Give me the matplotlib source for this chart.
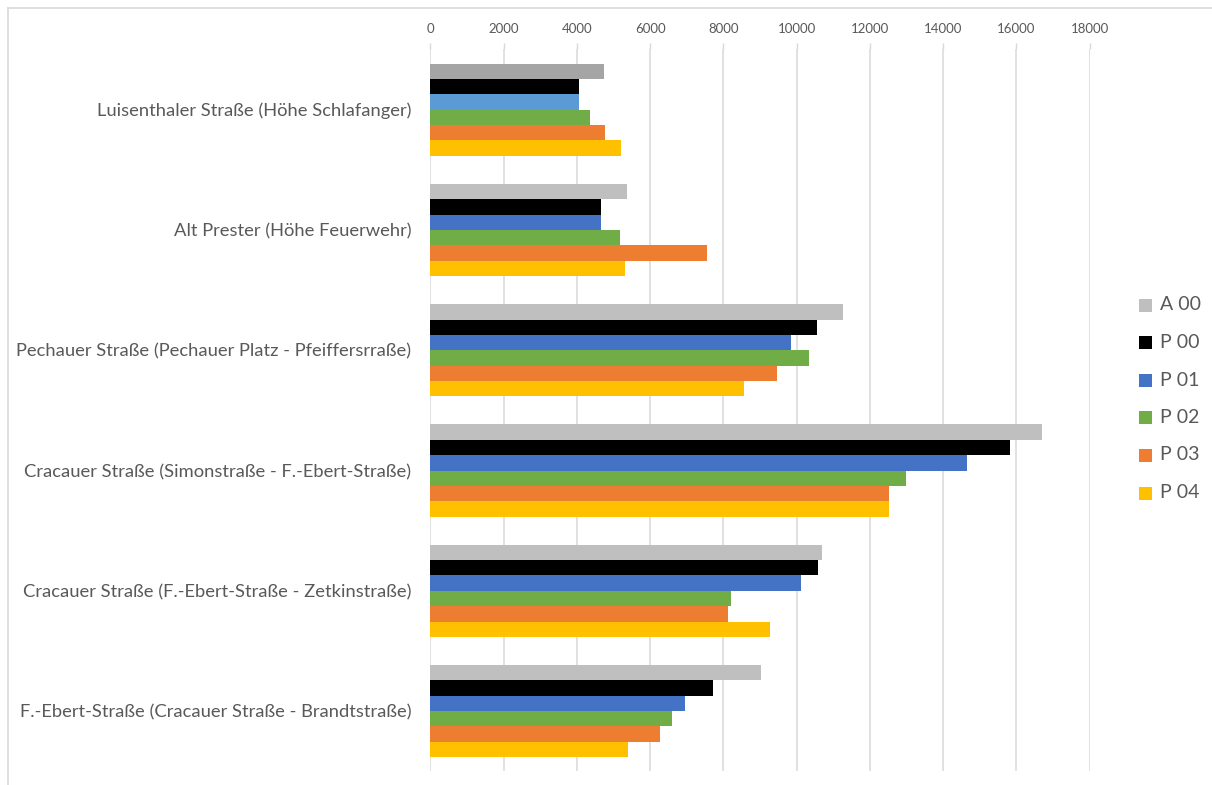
import matplotlib
matplotlib.use("Agg")
import matplotlib.pyplot as plt
from matplotlib.patches import Rectangle
from matplotlib.lines import Line2D
import numpy as np

plt.rcParams['font.family'] = ['Lato', 'DejaVu Sans']

# Messstellen (Kategorien, von oben nach unten)
categories = [
    "Luisenthaler Straße (Höhe Schlafanger)",
    "Alt Prester (Höhe Feuerwehr)",
    "Pechauer Straße (Pechauer Platz - Pfeiffersrraße)",
    "Cracauer Straße (Simonstraße - F.-Ebert-Straße)",
    "Cracauer Straße (F.-Ebert-Straße - Zetkinstraße)",
    "F.-Ebert-Straße (Cracauer Straße - Brandtstraße)",
]

series_names = ["A 00", "P 00", "P 01", "P 02", "P 03", "P 04"]

a00 = [4740, 5380, 11270, 16700, 10680, 9030]
p00 = [4070, 4670, 10550, 15825, 10585, 7710]
p01 = [4060, 4670, 9840, 14645, 10110, 6960]
p02 = [4370, 5180, 10350, 12985, 8210, 6600]
p03 = [4770, 7545, 9475, 12515, 8120, 6260]
p04 = [5215, 5310, 8555, 12515, 9265, 5405]

series_values = [a00, p00, p01, p02, p03, p04]

series_colors = ["#BFBFBF", "#000000", "#4472C4", "#70AD47", "#ED7D31", "#FFC000"]
# einzelne Balken mit abweichender Farbe: (Serie, Kategorie) -> Farbe
point_colors = {(0, 0): "#A5A5A5", (2, 0): "#5B9BD5"}

x_ticks = [0, 2000, 4000, 6000, 8000, 10000, 12000, 14000, 16000, 18000]

W, H = 1212, 785
fig = plt.figure(figsize=(W / 100, H / 100), dpi=100)
fig.patch.set_facecolor("white")

left, right, top, bottom = 430.3, 1089.7, 49.4, 771.3
ax = fig.add_axes([left / W, 1 - bottom / H, (right - left) / W, (bottom - top) / H])

text_color = "#595959"
grid_color = "#D9D9D9"

n_series = len(series_names)
bar_h = 0.765 / n_series
y_pos = np.arange(len(categories))

for j, (vals, col) in enumerate(zip(series_values, series_colors)):
    colors = [point_colors.get((j, i), col) for i in range(len(categories))]
    ax.barh(y_pos + (j - (n_series - 1) / 2) * bar_h, vals, height=bar_h,
            color=colors, edgecolor="none", zorder=3)

ax.set_xlim(0, 18000)
ax.set_ylim(len(categories) - 0.5, -0.5)

ax.xaxis.tick_top()
ax.set_xticks(x_ticks)
ax.set_xticklabels([str(t) for t in x_ticks])
ax.tick_params(axis="x", colors=grid_color, labelcolor=text_color, labelsize=9.5,
               length=4.5, width=1.0, pad=6)
ax.set_yticks(y_pos)
ax.set_yticklabels(categories)
ax.tick_params(axis="y", length=0, labelcolor=text_color, labelsize=13.2, pad=13.5)

ax.grid(axis="x", color=grid_color, linewidth=1.1, zorder=0)
ax.set_axisbelow(True)
for s in ax.spines.values():
    s.set_visible(False)

# Legende rechts
legend_x = 1139
legend_rows = [305, 342.5, 380, 417.5, 455, 493]
for name, col, yc in zip(series_names, series_colors, legend_rows):
    fig.add_artist(Rectangle((legend_x / W, 1 - (yc + 6.5) / H), 13 / W, 13 / H,
                             transform=fig.transFigure, color=col, lw=0))
    fig.text((legend_x + 21) / W, 1 - yc / H, name, color=text_color,
             fontsize=14, va="center", ha="left")

# Diagrammrahmen
fig.add_artist(Line2D([7.5 / W, 7.5 / W], [1 - 8 / H, 0], transform=fig.transFigure,
                      color=grid_color, lw=1.2))
fig.add_artist(Line2D([7.5 / W, 1], [1 - 8 / H, 1 - 8 / H], transform=fig.transFigure,
                      color=grid_color, lw=1.2))

fig.savefig("out.png", dpi=100, facecolor="white")
